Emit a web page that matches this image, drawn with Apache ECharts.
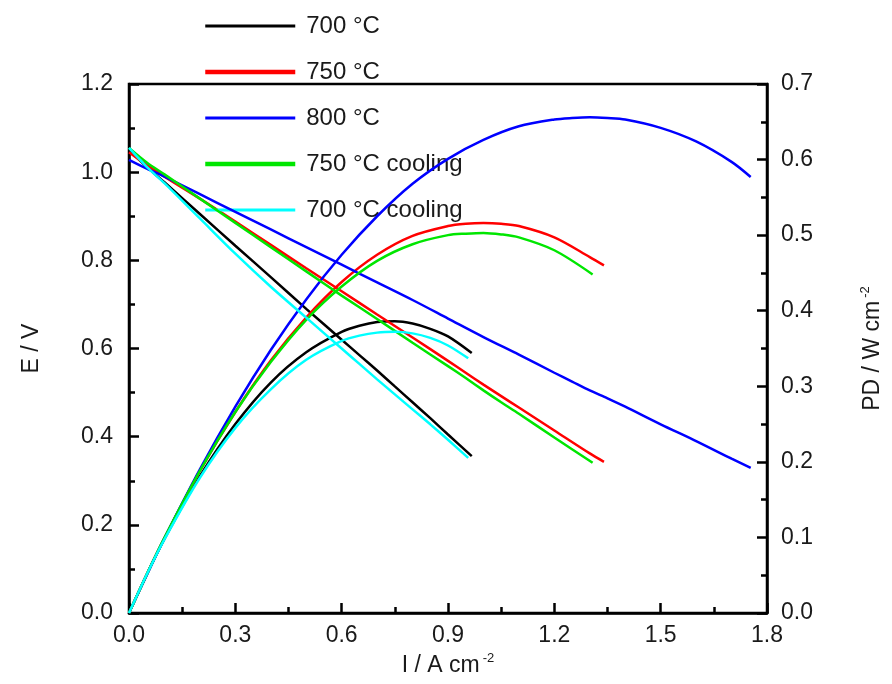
<!DOCTYPE html>
<html>
<head>
<meta charset="utf-8">
<script src="https://cdn.jsdelivr.net/npm/echarts@6/dist/echarts.min.js"></script>
<style>html,body{margin:0;padding:0;background:#fff}#c{width:892px;height:684px}</style>
</head>
<body>
<div id="c"></div>
<script>
// ---- data (current density I in A cm^-2) ----
const names = ['700 °C', '750 °C', '800 °C', '750 °C cooling', '700 °C cooling'];
const colors = ['#000000', '#ff0000', '#0000ff', '#00e600', '#00ffff'];

const I_700  = [0, 0.05, 0.1, 0.2, 0.3, 0.4, 0.5, 0.6, 0.65, 0.7, 0.75, 0.8, 0.85, 0.9, 0.967];
const E_700  = [1.05, 1.012, 0.977, 0.905, 0.833, 0.762, 0.690, 0.620, 0.585, 0.550, 0.514, 0.478, 0.442, 0.405, 0.356];
const PD_700 = [0, 0.051, 0.098, 0.181, 0.250, 0.305, 0.345, 0.372, 0.380, 0.385, 0.386, 0.383, 0.376, 0.366, 0.344];

const I_750  = [0, 0.05, 0.1, 0.2, 0.3, 0.4, 0.5, 0.6, 0.7, 0.8, 0.9, 0.95, 1.0, 1.05, 1.1, 1.2, 1.3, 1.34];
const E_750  = [1.045, 1.016, 0.990, 0.940, 0.888, 0.835, 0.782, 0.730, 0.677, 0.625, 0.572, 0.545, 0.518, 0.492, 0.466, 0.414, 0.362, 0.343];
const PD_750 = [0, 0.051, 0.099, 0.188, 0.266, 0.334, 0.391, 0.438, 0.474, 0.499, 0.512, 0.515, 0.516, 0.515, 0.512, 0.497, 0.471, 0.460];

const I_800  = [0, 0.05, 0.1, 0.2, 0.3, 0.4, 0.5, 0.6, 0.7, 0.8, 0.9, 1.0, 1.1, 1.2, 1.25, 1.3, 1.35, 1.4, 1.5, 1.6, 1.7, 1.754];
const E_800  = [1.028, 1.008, 0.990, 0.950, 0.910, 0.870, 0.830, 0.790, 0.750, 0.710, 0.668, 0.626, 0.586, 0.545, 0.525, 0.505, 0.487, 0.468, 0.428, 0.390, 0.350, 0.329];
const PD_800 = [0, 0.050, 0.099, 0.190, 0.273, 0.348, 0.415, 0.474, 0.525, 0.568, 0.601, 0.626, 0.644, 0.653, 0.655, 0.656, 0.655, 0.653, 0.642, 0.624, 0.597, 0.577];

const I_750c  = [0, 0.05, 0.1, 0.2, 0.3, 0.4, 0.5, 0.6, 0.7, 0.8, 0.9, 0.95, 1.0, 1.05, 1.1, 1.2, 1.308];
const E_750c  = [1.055, 1.022, 0.995, 0.940, 0.885, 0.830, 0.775, 0.720, 0.667, 0.613, 0.560, 0.533, 0.505, 0.478, 0.452, 0.398, 0.341];
const PD_750c = [0, 0.051, 0.0995, 0.188, 0.266, 0.332, 0.388, 0.432, 0.466, 0.488, 0.500, 0.502, 0.503, 0.501, 0.497, 0.480, 0.448];

const I_700c  = [0, 0.05, 0.1, 0.2, 0.3, 0.4, 0.5, 0.6, 0.65, 0.7, 0.75, 0.8, 0.85, 0.9, 0.957];
const E_700c  = [1.055, 1.012, 0.975, 0.895, 0.815, 0.740, 0.670, 0.600, 0.565, 0.530, 0.496, 0.462, 0.428, 0.393, 0.352];
const PD_700c = [0, 0.051, 0.0975, 0.179, 0.245, 0.296, 0.335, 0.360, 0.367, 0.371, 0.372, 0.370, 0.364, 0.354, 0.337];

// ---- build series ----
const sets = [
  [I_700, E_700, PD_700],
  [I_750, E_750, PD_750],
  [I_800, E_800, PD_800],
  [I_750c, E_750c, PD_750c],
  [I_700c, E_700c, PD_700c]
];
const legendWidths = [3, 4.5, 3, 4.5, 3];
const series = [];
sets.forEach((s, k) => {
  const [I, E, PD] = s;
  series.push({
    name: names[k], type: 'line', xAxisIndex: 0, yAxisIndex: 0,
    data: I.map((x, i) => [x, E[i]]), showSymbol: false, symbol: 'none',
    smooth: 0.3, lineStyle: { color: colors[k], width: 2.5 }, itemStyle: { color: colors[k] },
    z: 2 + k
  });
  series.push({
    name: names[k], type: 'line', xAxisIndex: 0, yAxisIndex: 1,
    data: I.map((x, i) => [x, PD[i]]), showSymbol: false, symbol: 'none',
    smooth: 0.3, lineStyle: { color: colors[k], width: 2.5 }, itemStyle: { color: colors[k] },
    z: 2 + k
  });
});

const FONT = 'Liberation Sans, Arial, sans-serif';
const TXT = '#1a1a1a';
const labelStyle = { color: TXT, fontSize: 23, fontFamily: FONT };
const tickCommon = {
  axisLine: { show: true, onZero: false, lineStyle: { color: '#000', width: 2.5 } },
  axisTick: { show: true, inside: true, length: 10, lineStyle: { color: '#000', width: 2.5 } },
  minorTick: { show: true, splitNumber: 2, length: 6, lineStyle: { color: '#000', width: 2.5 } },
  splitLine: { show: false },
  minorSplitLine: { show: false }
};

const chart = echarts.init(document.getElementById('c'), null, { renderer: 'canvas' });
chart.setOption({
  animation: false,
  backgroundColor: '#fff',
  grid: { left: 129, right: 125, top: 84, bottom: 71, show: true, borderColor: '#000', borderWidth: 2.5, containLabel: false },
  legend: {
    orient: 'vertical', left: 203, top: 14, padding: 0,
    itemWidth: 90, itemHeight: 14, itemGap: 22,
    data: names.map((n, k) => ({ name: n, itemStyle: { opacity: 0 }, lineStyle: { color: colors[k], width: legendWidths[k], opacity: 1 } })),
    textStyle: { color: TXT, fontSize: 24, fontFamily: FONT, lineHeight: 24, padding: [0, 0, 0, 6] },
    selectedMode: false
  },
  xAxis: [{
    type: 'value', min: 0, max: 1.8, interval: 0.3, position: 'bottom',
    ...tickCommon,
    axisLabel: { ...labelStyle, margin: 11, formatter: v => v.toFixed(1) },
    name: 'I / A cm{s|-2}', nameLocation: 'middle', nameGap: 34,
    nameTextStyle: { ...labelStyle, rich: { s: { fontSize: 13, fontFamily: FONT, color: TXT, padding: [0, 0, 14, 3] } } }
  }],
  yAxis: [{
    type: 'value', min: 0, max: 1.2, interval: 0.2, position: 'left',
    ...tickCommon,
    axisLabel: { ...labelStyle, margin: 16, formatter: v => v.toFixed(1) },
    name: 'E / V', nameLocation: 'middle', nameGap: 86,
    nameTextStyle: { ...labelStyle }
  }, {
    type: 'value', min: 0, max: 0.7, interval: 0.1, position: 'right',
    ...tickCommon,
    axisLabel: { ...labelStyle, margin: 14, formatter: v => v.toFixed(1) },
    name: 'PD / W cm{s|-2}', nameLocation: 'middle', nameGap: 92,
    nameTextStyle: { ...labelStyle, rich: { s: { fontSize: 13, fontFamily: FONT, color: TXT, padding: [0, 0, 14, 3] } } }
  }],
  series: series
});
</script>
</body>
</html>
